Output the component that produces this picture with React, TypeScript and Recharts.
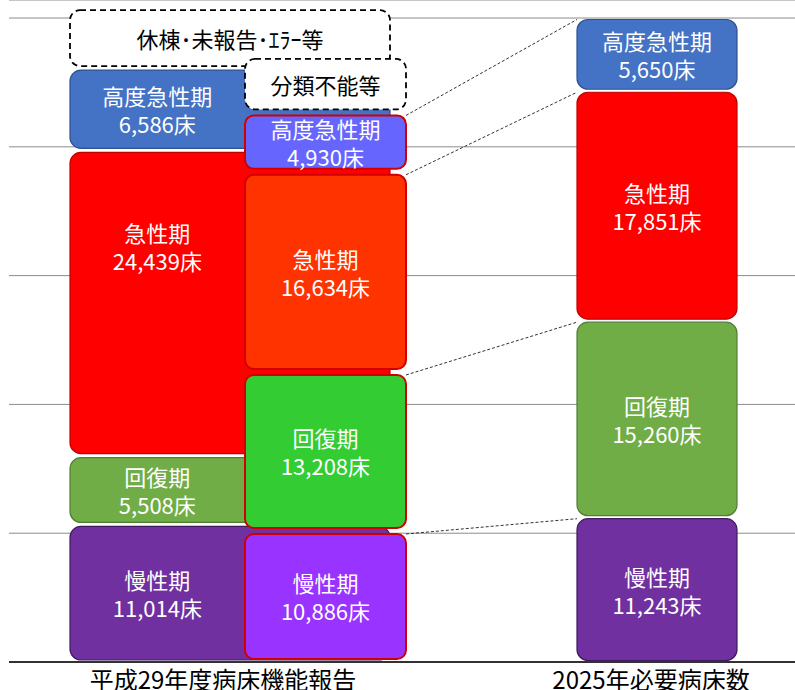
import { BarChart, Bar, XAxis, YAxis, CartesianGrid } from 'recharts'

const FONT = "'Noto Sans CJK JP', 'Noto Sans', sans-serif"

// 機能区分（下から積み上げる順）
const stages = ['慢性期', '回復期', '急性期', '高度急性期']
const reported2017 = [11014, 5508, 24439, 6586]
const reclassified2017 = [10886, 13208, 16634, 4930]
const required2025 = [11243, 15260, 17851, 5650]
// 点線枠の分。値は図に書かれていないので枠の高さからの概算
const otherLabels = ['休棟･未報告･ｴﾗｰ等', '分類不能等']
const otherBeds = [4800, 4700]
const columnLabels = ['平成29年度病床機能報告', '機能別再分類', '2025年必要病床数']
const gridTicks = [0, 10000, 20000, 30000, 40000, 50000]

// one row: every column reads its own keys, and sits on its own x axis
const row: Record<string, string | number> = {
  colL: columnLabels[0],
  colM: columnLabels[1],
  colR: columnLabels[2],
  L4: otherBeds[0],
  M4: otherBeds[1],
}
stages.forEach((_, i) => {
  row['L' + i] = reported2017[i]
  row['M' + i] = reclassified2017[i]
  row['R' + i] = required2025[i]
})
const data = [row]

const baseFill = ['#7030A0', '#70AD47', '#FF0000', '#4472C4']
const baseStroke = ['#3F1A5C', '#507E32', '#C00000', '#2F528F']
const midFill = ['#9933FF', '#33CC33', '#FF3300', '#6666FF']

type Col = 'L' | 'M' | 'R'

const COLS: Record<Col, any> = {
  L: { values: reported2017, inset: 2, fill: baseFill, stroke: baseStroke, sw: 1.2, tx: 0.273, ty: [0.5, 0.5, 0.31, 0.5], rx: 11 },
  M: { values: reclassified2017, inset: 3, fill: midFill, stroke: ['#D00000', '#D00000', '#D00000', '#D00000'], sw: 2, tx: 0.5, ty: [0.5, 0.5, 0.5, 0.5], rx: 9 },
  R: { values: required2025, inset: 1.5, fill: baseFill, stroke: baseStroke, sw: 1.2, tx: 0.5, ty: [0.5, 0.5, 0.5, 0.5], rx: 11 },
}

// top-right corners of the middle boxes, picked up by the 2025 boxes for the dotted connectors
const anchors: { x: number; y: number }[] = []

const block = (col: Col, seg: number) => (p: any) => {
  const { x, y, width, height } = p
  if (!(height > 0)) return <g />
  const c = COLS[col]
  const top = y + c.inset
  const h = height - c.inset * 2

  if (seg === 4) {
    // dashed "other" box
    return (
      <g>
        <rect x={x} y={top} width={width} height={h} rx={10} fill="#fff" stroke="#000" strokeWidth={1.8} strokeDasharray="6 4" />
        <text x={x + width / 2} y={top + h / 2} textAnchor="middle" dominantBaseline="central" fill="#000" fontSize={22} fontFamily={FONT}>
          {otherLabels[col === 'L' ? 0 : 1]}
        </text>
      </g>
    )
  }

  if (col === 'M') anchors[seg] = { x: x + width, y: top }
  const a = col === 'R' ? anchors[seg] : undefined
  const cx = x + width * c.tx
  const cy = top + h * c.ty[seg]

  return (
    <g>
      {a && <line x1={a.x} y1={a.y} x2={x} y2={top} stroke="#333" strokeWidth={1} strokeDasharray="3 2" />}
      <rect x={x} y={top} width={width} height={h} rx={c.rx} fill={c.fill[seg]} stroke={c.stroke[seg]} strokeWidth={c.sw} />
      <text textAnchor="middle" dominantBaseline="central" fill="#fff" fontSize={22} fontFamily={FONT}>
        <tspan x={cx} y={cy - 14}>{stages[seg]}</tspan>
        <tspan x={cx} y={cy + 14}>{c.values[seg].toLocaleString('en-US')}床</tspan>
      </text>
    </g>
  )
}

const segs = [0, 1, 2, 3]
const tickStyle = { fill: '#000', fontSize: 24, fontFamily: FONT }

export default function App() {
  return (
    <div>
      <style>{'html,body{margin:0;overflow:hidden}'}</style>
      <BarChart width={795} height={690} data={data} margin={{ top: 0, right: 0, bottom: 0, left: 9 }} barCategoryGap={0} barGap={0}>
        {/* the 2017 axis sits first and is only 1px tall, so both column labels share one row */}
        <XAxis
          xAxisId="R"
          dataKey="colR"
          height={27}
          padding={{ left: 568, right: 58 }}
          axisLine={false}
          tickLine={false}
          tickSize={6}
          tickMargin={3}
          interval={0}
          tick={{ ...tickStyle, dx: -6 }}
        />
        <XAxis
          xAxisId="L"
          dataKey="colL"
          height={1}
          padding={{ left: 61, right: 405 }}
          axisLine={{ stroke: '#000', strokeWidth: 1.3 }}
          tickLine={false}
          tickSize={6}
          tickMargin={4}
          interval={0}
          tick={{ ...tickStyle, dx: -7 }}
        />
        <XAxis xAxisId="M" dataKey="colM" hide height={0} padding={{ left: 236, right: 389 }} />

        {/* the source slide isn't drawn to one scale, so each column keeps its own */}
        <YAxis yAxisId="main" hide domain={[0, 51400]} ticks={gridTicks} />
        <YAxis yAxisId="L" hide domain={[0, 53000]} />
        <YAxis yAxisId="M" hide domain={[0, 55000]} />

        <CartesianGrid xAxisId="L" yAxisId="main" vertical={false} stroke="#8c8c8c" />

        {[...segs, 4].map((i) => (
          <Bar key={'L' + i} dataKey={'L' + i} stackId="L" xAxisId="L" yAxisId="L" isAnimationActive={false} shape={block('L', i)} />
        ))}
        {[...segs, 4].map((i) => (
          <Bar key={'M' + i} dataKey={'M' + i} stackId="M" xAxisId="M" yAxisId="M" isAnimationActive={false} shape={block('M', i)} />
        ))}
        {segs.map((i) => (
          <Bar key={'R' + i} dataKey={'R' + i} stackId="R" xAxisId="R" yAxisId="main" isAnimationActive={false} shape={block('R', i)} />
        ))}
      </BarChart>
    </div>
  )
}
